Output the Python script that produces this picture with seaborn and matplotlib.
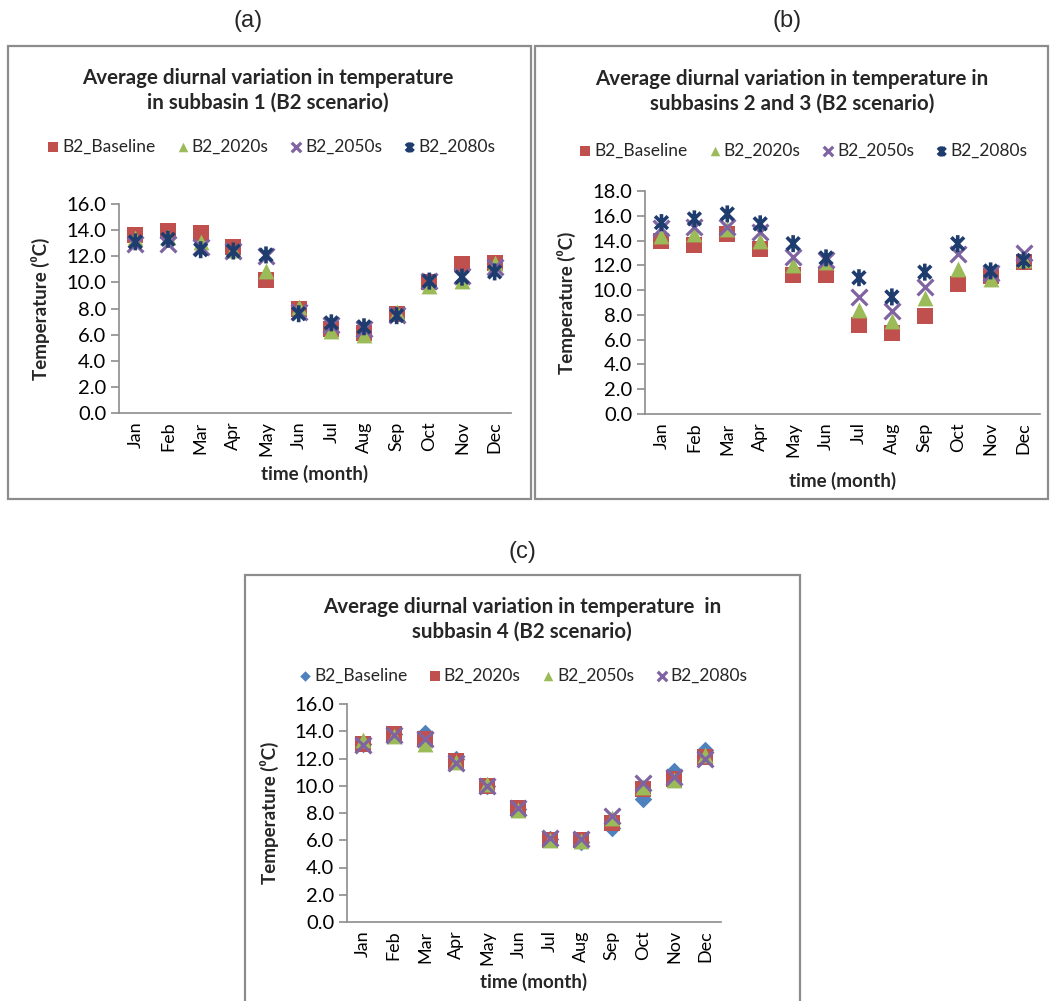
import numpy as np
import pandas as pd
import matplotlib
matplotlib.use("Agg")
import matplotlib.pyplot as plt
import seaborn as sns
from matplotlib.path import Path
from matplotlib.patches import Rectangle

# ---------------- data ----------------
months = ["Jan", "Feb", "Mar", "Apr", "May", "Jun", "Jul", "Aug", "Sep", "Oct", "Nov", "Dec"]

# panel (a): subbasin 1
a_baseline = [13.6, 13.9, 13.8, 12.7, 10.2, 8.0, 6.4, 6.1, 7.6, 10.0, 11.4, 11.5]
a_2020s = [13.4, 13.5, 13.1, 12.5, 10.9, 8.1, 6.25, 6.0, 7.7, 9.75, 10.1, 11.5]
a_2050s = [12.9, 12.95, 12.7, 12.4, 12.0, 7.7, 6.7, 6.4, 7.5, 10.1, 10.5, 11.2]
a_2080s = [13.1, 13.3, 12.5, 12.4, 12.1, 7.6, 6.9, 6.6, 7.45, 10.1, 10.4, 10.8]

# panel (b): subbasins 2 and 3
b_baseline = [13.95, 13.65, 14.55, 13.35, 11.25, 11.25, 7.2, 6.55, 7.95, 10.5, 11.1, 12.25]
b_2020s = [14.4, 14.55, 14.9, 14.0, 12.0, 12.3, 8.4, 7.5, 9.4, 11.7, 10.9, 12.4]
b_2050s = [15.0, 15.1, 15.1, 14.7, 12.7, 12.4, 9.45, 8.3, 10.25, 12.95, 11.4, 13.0]
b_2080s = [15.45, 15.75, 16.15, 15.35, 13.75, 12.6, 11.0, 9.45, 11.45, 13.75, 11.55, 12.4]

# panel (c): subbasin 4
c_baseline = [13.1, 13.8, 13.85, 12.0, 10.0, 8.3, 6.1, 5.9, 6.9, 9.05, 11.1, 12.6]
c_2020s = [13.05, 13.8, 13.4, 11.8, 10.0, 8.35, 6.05, 6.0, 7.3, 9.75, 10.5, 12.1]
c_2050s = [13.35, 13.65, 13.1, 11.75, 10.15, 8.2, 6.0, 5.95, 7.6, 9.9, 10.45, 12.25]
c_2080s = [13.0, 13.75, 13.45, 11.65, 9.95, 8.35, 6.15, 6.1, 7.75, 10.2, 10.65, 12.0]

# ---------------- style ----------------
sns.set_theme(style="white")
plt.rcParams["font.family"] = ["Lato", "DejaVu Sans"]

RED = "#C0504D"
GREEN = "#9BBB59"
PURPLE = "#8064A2"
NAVY = "#1F3C6E"
BLUE = "#4F81BD"
AXC = "#8C8C8C"
BOXC = "#8C8C8C"

W, H = 1051, 1001
fig = plt.figure(figsize=(W / 100, H / 100), dpi=100)

# Excel-like "star" marker: X plus vertical bar
star_path = Path(
    [(0, -1), (0, 1), (-0.75, -0.75), (0.75, 0.75), (-0.75, 0.75), (0.75, -0.75)],
    [Path.MOVETO, Path.LINETO, Path.MOVETO, Path.LINETO, Path.MOVETO, Path.LINETO],
)

STYLE = {
    "s": dict(marker="s", s=125, linewidth=0),
    "^": dict(marker="^", s=130, linewidth=0),
    "D": dict(marker="D", s=80, linewidth=0),
    "x": dict(marker="x", s=130, linewidths=2.3),
    "star": dict(marker=star_path, s=150, linewidths=2.6),
}


def px_axes(l, r, t, b):
    return fig.add_axes([l / W, 1 - b / H, (r - l) / W, (b - t) / H])


def draw_panel(ax, series, ymax, title, leg_xy, ylab_x, xlab_y):
    for name, vals, color, mk in series:
        kw = dict(STYLE[mk])
        if mk == "star":
            kw["edgecolor"] = color
            kw["facecolor"] = "none"
        elif mk != "x":
            kw["edgecolor"] = color
        sns.scatterplot(x=months, y=vals, color=color, label=name, ax=ax, zorder=3, **kw)
    ax.set_xlim(-0.5, 11.5)
    ax.set_ylim(0, ymax)
    ticks = np.arange(0, ymax + 0.1, 2)
    ax.set_yticks(ticks)
    ax.set_yticklabels([f"{v:.1f}" for v in ticks], fontsize=14.5, color="#000000")
    ax.set_xticks(range(12))
    ax.set_xticklabels(months, rotation=90, fontsize=13, color="#000000")
    for sp in ["top", "right"]:
        ax.spines[sp].set_visible(False)
    for sp in ["left", "bottom"]:
        ax.spines[sp].set_color(AXC)
        ax.spines[sp].set_linewidth(1.2)
    ax.tick_params(axis="y", which="major", length=6, width=1.2, color=AXC, pad=3, left=True, direction="out")
    ax.tick_params(axis="x", which="major", length=0, pad=6)
    ax.set_ylabel("Temperature (\u2070C)", fontsize=13.5, fontweight="bold",
                  family=["Lato", "DejaVu Sans"])
    ax.set_xlabel("time (month)", fontsize=13.5, fontweight="bold")
    ax.yaxis.set_label_coords(ylab_x, 0.5)
    ax.yaxis.label.set_va("center")
    ax.xaxis.set_label_coords(0.5, xlab_y)
    ax.xaxis.label.set_va("center")
    ax.set_facecolor("none")
    ax.legend(loc="center", bbox_to_anchor=(leg_xy[0] / W, 1 - leg_xy[1] / H),
              bbox_transform=fig.transFigure, ncol=4, frameon=False,
              fontsize=12.5, markerscale=0.6, handletextpad=0.0,
              columnspacing=1.1, handlelength=1.0, borderaxespad=0)
    fig.text(title[1][0] / W, 1 - title[1][1] / H, title[0], ha="center", va="center",
             fontsize=14.8, fontweight="bold", linespacing=1.3)


# panel boxes
fig.add_artist(Rectangle((8 / W, 1 - 499 / H), (531 - 8) / W, (499 - 46) / H,
                         transform=fig.transFigure, fill=False, edgecolor=BOXC, lw=1.6))
fig.add_artist(Rectangle((535 / W, 1 - 499 / H), (1048 - 535) / W, (499 - 46) / H,
                         transform=fig.transFigure, fill=False, edgecolor=BOXC, lw=1.6))
fig.add_artist(Rectangle((245 / W, -0.01), (800 - 245) / W, (1011 - 575) / H,
                         transform=fig.transFigure, fill=False, edgecolor=BOXC, lw=1.6))

# panel labels
for lab, x, y in [("(a)", 248, 21), ("(b)", 787, 21), ("(c)", 522, 552)]:
    fig.text(x / W, 1 - y / H, lab, ha="center", va="center", fontsize=17,
             family="Liberation Sans")

ax_a = px_axes(119, 511, 204, 413)
draw_panel(ax_a,
           [("B2_Baseline", a_baseline, RED, "s"), ("B2_2020s", a_2020s, GREEN, "^"),
            ("B2_2050s", a_2050s, PURPLE, "x"), ("B2_2080s", a_2080s, NAVY, "star")],
           16, ("Average diurnal variation in temperature\nin subbasin 1 (B2 scenario)", (268, 90)),
           (270, 147), -0.2, -0.29)

ax_b = px_axes(645, 1040, 191, 414)
draw_panel(ax_b,
           [("B2_Baseline", b_baseline, RED, "s"), ("B2_2020s", b_2020s, GREEN, "^"),
            ("B2_2050s", b_2050s, PURPLE, "x"), ("B2_2080s", b_2080s, NAVY, "star")],
           18, ("Average diurnal variation in temperature in\nsubbasins 2 and 3 (B2 scenario)", (792, 91)),
           (802, 151), -0.2, -0.3)

ax_c = px_axes(347, 721, 704, 922)
draw_panel(ax_c,
           [("B2_Baseline", c_baseline, BLUE, "D"), ("B2_2020s", c_2020s, RED, "s"),
            ("B2_2050s", c_2050s, GREEN, "^"), ("B2_2080s", c_2080s, PURPLE, "x")],
           16, ("Average diurnal variation in temperature  in\nsubbasin 4 (B2 scenario)", (522, 619)),
           (522, 676), -0.206, -0.275)

fig.savefig("out.png", dpi=100)
